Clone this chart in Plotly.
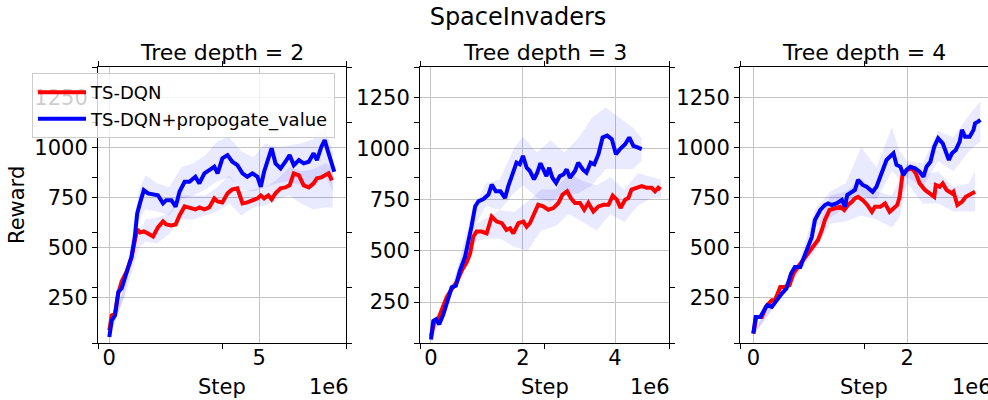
import plotly.graph_objects as go

# ---------------- data (steps in units of 1e6) ----------------
titles = ["Tree depth = 2", "Tree depth = 3", "Tree depth = 4"]
series_names = ["TS-DQN", "TS-DQN+propogate_value"]

# Panel 1 (depth 2)
p1_red_x = [0.0, 0.08, 0.19, 0.3, 0.41, 0.58, 0.74, 0.85, 0.93, 1.02, 1.15, 1.29, 1.46, 1.62, 1.79, 1.9,
            2.07, 2.21, 2.34, 2.51, 2.67, 2.87, 3.0, 3.17, 3.33, 3.5, 3.61, 3.77, 3.94, 4.1, 4.27, 4.44,
            4.6, 4.77, 4.94, 5.05, 5.16, 5.3, 5.41, 5.54, 5.71, 5.87, 6.01, 6.15, 6.32, 6.48, 6.65, 6.81,
            6.92, 7.07, 7.18, 7.31, 7.42]
p1_red_y = [86, 160, 170, 270, 330, 380, 450, 520, 590, 575, 580, 570, 555, 600, 630, 615,
            610, 615, 660, 705, 700, 690, 700, 690, 700, 745, 730, 725, 770, 790, 795, 720,
            725, 735, 745, 760, 745, 760, 740, 770, 795, 800, 810, 870, 860, 810, 800, 820,
            845, 850, 860, 870, 835]
p1_blue_x = [0.0, 0.08, 0.19, 0.3, 0.41, 0.58, 0.74, 0.85, 0.93, 1.02, 1.15, 1.29, 1.46, 1.62, 1.79, 1.9,
             2.07, 2.21, 2.34, 2.51, 2.67, 2.87, 3.0, 3.17, 3.33, 3.5, 3.61, 3.77, 3.94, 4.1, 4.27, 4.44,
             4.6, 4.77, 4.94, 5.05, 5.16, 5.3, 5.41, 5.54, 5.71, 5.87, 6.01, 6.15, 6.32, 6.48, 6.65, 6.81,
             6.92, 7.07, 7.18, 7.31, 7.5]
p1_blue_y = [53, 136, 161, 278, 295, 370, 453, 553, 670, 720, 786, 770, 766, 761, 720, 736,
             736, 703, 778, 828, 828, 853, 820, 870, 886, 903, 870, 945, 961, 928, 911, 870,
             853, 870, 853, 803, 878, 936, 995, 920, 895, 928, 961, 911, 936, 920, 928, 970,
             936, 1003, 1036, 970, 878]
p1_band_x = [0, 0.5, 1.0, 1.2, 1.6, 2.0, 2.4, 2.8, 3.2, 3.6, 4.0, 4.4, 4.8, 5.2, 5.6, 6.0, 6.4, 6.8, 7.2, 7.45]
p1_red_lo = [60, 250, 500, 530, 520, 570, 640, 640, 660, 680, 720, 660, 700, 710, 740, 760, 720, 690, 700, 700]
p1_red_hi = [100, 300, 560, 640, 650, 670, 760, 760, 760, 800, 860, 780, 790, 800, 840, 900, 880, 890, 920, 900]
p1_blue_lo = [40, 260, 640, 690, 680, 660, 740, 760, 790, 830, 850, 790, 780, 800, 820, 830, 810, 800, 860, 780]
p1_blue_hi = [80, 310, 790, 860, 820, 800, 900, 920, 960, 1030, 1050, 980, 950, 1020, 1000, 1010, 1020, 1040, 1100, 980]

# Panel 2 (depth 3)
p2_red_x = [0, 0.07, 0.14, 0.23, 0.34, 0.45, 0.56, 0.67, 0.78, 0.85, 0.92, 0.99, 1.1, 1.21, 1.32, 1.43,
            1.54, 1.64, 1.72, 1.79, 1.9, 2.01, 2.08, 2.15, 2.24, 2.33, 2.44, 2.55, 2.66, 2.77, 2.86, 2.96,
            3.04, 3.13, 3.24, 3.33, 3.42, 3.53, 3.64, 3.75, 3.86, 3.95, 4.04, 4.12, 4.22, 4.29, 4.36, 4.47,
            4.58, 4.69, 4.8, 4.87, 4.94, 4.99]
p2_red_y = [84, 150, 158, 207, 273, 314, 347, 404, 446, 487, 569, 594, 594, 585, 668, 643,
            635, 602, 610, 585, 635, 643, 618, 635, 684, 725, 717, 701, 709, 734, 775, 791,
            758, 734, 734, 701, 734, 692, 717, 725, 725, 770, 750, 709, 750, 758, 799, 808,
            816, 808, 808, 791, 808, 799]
p2_blue_x = [0, 0.05, 0.11, 0.18, 0.27, 0.38, 0.45, 0.54, 0.63, 0.74, 0.83, 0.88, 0.96, 1.03, 1.14, 1.25,
             1.32, 1.41, 1.51, 1.61, 1.68, 1.75, 1.86, 1.93, 2.0, 2.08, 2.15, 2.24, 2.31, 2.38, 2.46, 2.51,
             2.57, 2.64, 2.72, 2.8, 2.88, 2.95, 3.02, 3.13, 3.2, 3.3, 3.38, 3.47, 3.55, 3.64, 3.73, 3.83,
             3.93, 4.02, 4.11, 4.22, 4.31, 4.4, 4.49, 4.58]
p2_blue_y = [67, 158, 166, 141, 191, 273, 322, 330, 404, 470, 553, 618, 717, 742, 753, 775,
             824, 791, 791, 758, 816, 865, 931, 923, 964, 906, 890, 849, 882, 928, 882, 865,
             906, 857, 832, 865, 873, 898, 857, 890, 931, 898, 882, 931, 923, 972, 1054, 1063,
             1046, 972, 997, 1021, 1054, 1013, 1005, 997]
p2_red_band_x = [0, 0.5, 0.9, 1.2, 1.5, 1.8, 2.1, 2.4, 2.7, 3.0, 3.3, 3.6, 3.9, 4.2, 4.5, 4.8, 5.0]
p2_red_lo = [70, 320, 540, 560, 560, 520, 500, 600, 620, 680, 640, 600, 680, 640, 720, 760, 760]
p2_red_hi = [100, 360, 620, 660, 700, 690, 740, 800, 800, 880, 840, 820, 860, 800, 880, 860, 850]
p2_blue_band_x = [0, 0.5, 0.9, 1.2, 1.5, 1.8, 2.0, 2.3, 2.6, 2.9, 3.2, 3.5, 3.8, 4.1, 4.4, 4.58]
p2_blue_lo = [50, 310, 600, 720, 700, 780, 820, 760, 740, 780, 780, 820, 900, 900, 900, 940]
p2_blue_hi = [80, 350, 700, 830, 850, 1000, 1060, 980, 1040, 980, 1050, 1150, 1200, 1150, 1100, 1050]

# Panel 3 (depth 4)
p3_red_x = [0, 0.04, 0.11, 0.16, 0.24, 0.28, 0.35, 0.41, 0.47, 0.52, 0.58, 0.65, 0.71, 0.78, 0.84, 0.89,
            0.93, 0.99, 1.06, 1.13, 1.18, 1.23, 1.28, 1.32, 1.36, 1.42, 1.48, 1.54, 1.58, 1.65, 1.71, 1.77,
            1.82, 1.87, 1.9, 1.94, 2.0, 2.06, 2.11, 2.16, 2.23, 2.29, 2.35, 2.37, 2.42, 2.46, 2.51, 2.58,
            2.6, 2.65, 2.71, 2.76, 2.81, 2.88]
p3_red_y = [70, 153, 153, 203, 237, 237, 303, 303, 312, 370, 403, 437, 470, 503, 537, 587,
            637, 687, 695, 703, 687, 712, 728, 745, 753, 737, 712, 678, 703, 703, 720, 678,
            695, 712, 753, 870, 887, 895, 870, 820, 787, 770, 753, 812, 803, 820, 787, 770,
            778, 712, 728, 753, 762, 778]
p3_blue_x = [0, 0.03, 0.09, 0.13, 0.18, 0.24, 0.3, 0.37, 0.43, 0.49, 0.54, 0.61, 0.66, 0.71, 0.76, 0.8,
             0.87, 0.93, 0.97, 1.02, 1.08, 1.15, 1.19, 1.22, 1.28, 1.32, 1.36, 1.42, 1.47, 1.55, 1.6, 1.67,
             1.73, 1.82, 1.86, 1.91, 1.95, 1.99, 2.04, 2.1, 2.16, 2.21, 2.25, 2.3, 2.35, 2.4, 2.46, 2.5,
             2.54, 2.58, 2.63, 2.68, 2.71, 2.75, 2.81, 2.86, 2.88, 2.92, 2.95]
p3_blue_y = [70, 153, 153, 178, 212, 203, 237, 270, 295, 370, 403, 403, 453, 503, 553, 637,
             687, 712, 720, 712, 720, 737, 703, 762, 778, 787, 837, 812, 803, 778, 803, 870,
             937, 970, 912, 903, 862, 887, 903, 895, 878, 853, 903, 928, 1003, 1045, 1020, 978,
             937, 970, 987, 1028, 1087, 1053, 1053, 1087, 1120, 1128, 1137]
p3_red_band_x = [0, 0.3, 0.6, 0.8, 1.0, 1.2, 1.4, 1.6, 1.8, 1.9, 2.0, 2.2, 2.4, 2.6, 2.8, 2.88]
p3_red_lo = [60, 220, 380, 480, 620, 630, 660, 640, 600, 650, 820, 720, 720, 680, 680, 680]
p3_red_hi = [85, 260, 430, 560, 760, 780, 840, 780, 760, 840, 920, 860, 880, 800, 820, 880]
p3_blue_band_x = [0, 0.3, 0.6, 0.8, 1.0, 1.2, 1.4, 1.6, 1.8, 1.9, 2.0, 2.2, 2.4, 2.6, 2.8, 2.95]
p3_blue_lo = [60, 220, 380, 600, 650, 700, 760, 740, 880, 840, 850, 800, 930, 880, 980, 1030]
p3_blue_hi = [85, 260, 430, 690, 780, 820, 1000, 900, 1100, 980, 930, 920, 1080, 1050, 1160, 1230]

y_ticks = [250, 500, 750, 1000, 1250]
x_ticks = [[0, 5], [0, 2, 4], [0, 2]]

# ---------------- figure ----------------
FONT = "DejaVu Sans"
BAND = "rgba(0,0,255,0.085)"
RED = "#ff0000"
BLUE = "#0000ff"

panels = [
    dict(red=(p1_red_x, p1_red_y), blue=(p1_blue_x, p1_blue_y),
         red_band=(p1_band_x, p1_red_lo, p1_red_hi), blue_band=(p1_band_x, p1_blue_lo, p1_blue_hi),
         dom=[98 / 988, 346 / 988], xr=[-0.377, 7.89], yr=[23, 1401], e6=0.843),
    dict(red=(p2_red_x, p2_red_y), blue=(p2_blue_x, p2_blue_y),
         red_band=(p2_red_band_x, p2_red_lo, p2_red_hi), blue_band=(p2_blue_band_x, p2_blue_lo, p2_blue_hi),
         dom=[420 / 988, 669 / 988], xr=[-0.239, 5.174], yr=[50, 1398], e6=0.835),
    dict(red=(p3_red_x, p3_red_y), blue=(p3_blue_x, p3_blue_y),
         red_band=(p3_red_band_x, p3_red_lo, p3_red_hi), blue_band=(p3_blue_band_x, p3_blue_lo, p3_blue_hi),
         dom=[740 / 988, 1.0], xr=[-0.173, 3.048], yr=[23, 1401], e6=0.847),
]

fig = go.Figure()
layout_axes = {}
annotations = []

for i, p in enumerate(panels, start=1):
    xa = "x" if i == 1 else f"x{i}"
    ya = "y" if i == 1 else f"y{i}"
    for band in (p["red_band"], p["blue_band"]):
        bx, blo, bhi = band
        fig.add_trace(go.Scatter(x=list(bx) + list(bx)[::-1], y=list(bhi) + list(blo)[::-1],
                                 fill="toself", fillcolor=BAND, line=dict(width=0), mode="lines",
                                 hoverinfo="skip", showlegend=False, xaxis=xa, yaxis=ya))
    for key, color, name in (("red", RED, series_names[0]), ("blue", BLUE, series_names[1])):
        sx, sy = p[key]
        fig.add_trace(go.Scatter(x=sx, y=sy, mode="lines", name=name, legendgroup=name,
                                 showlegend=(i == 1), line=dict(color=color, width=4),
                                 xaxis=xa, yaxis=ya))
    # frame subplot (dummy)
    fig.add_trace(go.Scatter(x=[None], y=[None], xaxis=f"x{i+3}", yaxis=f"y{i+3}",
                             showlegend=False, hoverinfo="skip"))

    sfx = "" if i == 1 else str(i)
    layout_axes[f"xaxis{sfx}"] = dict(
        domain=p["dom"], range=p["xr"], anchor=ya, tickvals=x_ticks[i - 1],
        ticktext=[str(v) for v in x_ticks[i - 1]], showgrid=True, gridcolor="#c4c4c4", gridwidth=1,
        zeroline=False, showline=False, ticks="",
        tickfont=dict(size=21, color="black", family=FONT))
    layout_axes[f"yaxis{sfx}"] = dict(
        domain=[0, 1], range=p["yr"], anchor=xa, tickvals=y_ticks, showgrid=True,
        gridcolor="#c4c4c4", gridwidth=1, zeroline=False, showline=False, ticks="outside",
        ticklen=5, tickwidth=1, tickcolor="black",
        tickfont=dict(size=21, color="black", family=FONT))
    layout_axes[f"xaxis{i+3}"] = dict(
        domain=p["dom"], range=[0, 1], anchor=f"y{i+3}", tickvals=[0, 0.5, 1],
        showticklabels=False, ticks="outside", ticklen=5, tickwidth=1, tickcolor="black",
        showline=True, linecolor="black", linewidth=1, mirror="ticks", showgrid=False,
        zeroline=False, fixedrange=True)
    layout_axes[f"yaxis{i+3}"] = dict(
        domain=[0, 1], range=[0, 1], anchor=f"x{i+3}", tickvals=[0, 0.2, 0.4, 0.6, 0.8, 1.0],
        showticklabels=False, ticks="outside", ticklen=5, tickwidth=1, tickcolor="black",
        showline=True, linecolor="black", linewidth=1, mirror=("ticks" if i < 3 else False),
        showgrid=False, zeroline=False, fixedrange=True)

    annotations.append(dict(text=titles[i - 1], xref=f"{xa} domain", yref=f"{ya} domain",
                            x=0.5, y=1.0, xanchor="center", yanchor="bottom", showarrow=False,
                            font=dict(size=22, color="black", family=FONT)))
    annotations.append(dict(text="Step", xref=f"{xa} domain", yref=f"{ya} domain",
                            x=0.5, y=-0.16, xanchor="center", yanchor="middle", showarrow=False,
                            font=dict(size=21, color="black", family=FONT)))
    annotations.append(dict(text="1e6", xref=f"{xa} domain", yref=f"{ya} domain",
                            x=p["e6"], y=-0.16, xanchor="left", yanchor="middle", showarrow=False,
                            font=dict(size=21, color="black", family=FONT)))

annotations.append(dict(text="Reward", xref="paper", yref="paper", x=17 / 988, y=0.5,
                        xanchor="center", yanchor="middle", textangle=-90, showarrow=False,
                        font=dict(size=21, color="black", family=FONT)))

fig.update_layout(
    width=988, height=400,
    margin=dict(l=0, r=0, t=67, b=57),
    paper_bgcolor="white", plot_bgcolor="rgba(0,0,0,0)",
    font=dict(family=FONT, color="black"),
    title=dict(text="SpaceInvaders", x=518 / 988, xanchor="center", y=1 - 17 / 400, yanchor="middle",
               font=dict(size=24, color="black", family=FONT)),
    legend=dict(x=32 / 988, y=0.978, xanchor="left", yanchor="top",
                bgcolor="rgba(255,255,255,0.8)", bordercolor="#cccccc", borderwidth=1,
                font=dict(size=18, color="black", family=FONT), tracegroupgap=0,
                itemwidth=48),
    annotations=annotations,
    showlegend=True,
    **layout_axes,
)

fig.write_html("out.html", config={"displayModeBar": False},
               post_script="document.body.style.margin='0';")
